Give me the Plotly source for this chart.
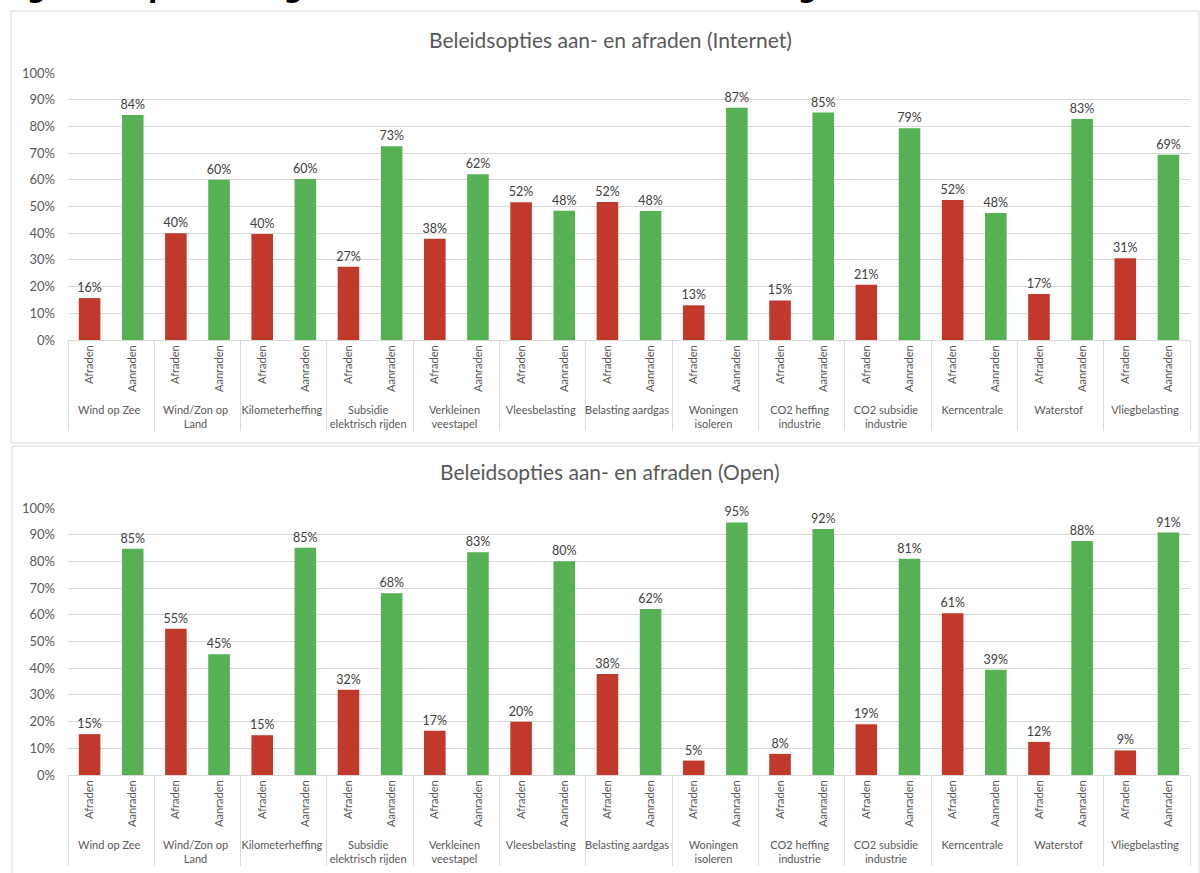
import plotly.graph_objects as go

# ---- data ----
maatregelen = ["Wind op Zee", "Wind/Zon op<br>Land", "Kilometerheffing", "Subsidie<br>elektrisch rijden",
               "Verkleinen<br>veestapel", "Vleesbelasting", "Belasting aardgas", "Woningen<br>isoleren",
               "CO2 heffing<br>industrie", "CO2 subsidie<br>industrie", "Kerncentrale", "Waterstof", "Vliegbelasting"]
reeksen = ["Afraden", "Aanraden"]

internet_afraden = [15.7, 40.0, 39.7, 27.4, 37.9, 51.6, 51.7, 13.0, 14.8, 20.7, 52.4, 17.2, 30.6]
internet_aanraden = [84.3, 60.0, 60.3, 72.6, 62.1, 48.4, 48.3, 87.0, 85.2, 79.3, 47.6, 82.8, 69.4]
open_afraden = [15.3, 54.8, 14.9, 31.9, 16.6, 19.9, 37.8, 5.4, 7.9, 19.0, 60.6, 12.4, 9.2]
open_aanraden = [84.7, 45.2, 85.1, 68.1, 83.4, 80.1, 62.2, 94.6, 92.1, 81.0, 39.4, 87.6, 90.8]

titel_figuur = "Figuur B: percentages deelnemers dat de 13 maatregelen aanbeveelt of afraadt"
titel_internet = "Beleidsopties aan- en afraden (Internet)"
titel_open = "Beleidsopties aan- en afraden (Open)"

RED = "#C0392B"
GREEN = "#55B153"
TXT = "#595959"
GRID = "#D9D9D9"
FONT = "Lato"

W, H = 1200, 873


def interleave(a, b):
    out = []
    for p, q in zip(a, b):
        out += [p, q]
    return out


outer = interleave(maatregelen, maatregelen)
inner = interleave([reeksen[0]] * len(maatregelen), [reeksen[1]] * len(maatregelen))
colors = interleave([RED] * len(maatregelen), [GREEN] * len(maatregelen))

fig = go.Figure()
for ax, (af, aan) in zip(["", "2"], [(internet_afraden, internet_aanraden), (open_afraden, open_aanraden)]):
    vals = interleave(af, aan)
    fig.add_trace(go.Bar(
        x=[outer, inner], y=vals,
        marker=dict(color=colors, line=dict(width=0)),
        width=0.5,
        text=[f"{round(v)}%" for v in vals],
        texttemplate="%{text}",
        textposition="outside",
        constraintext="none",
        textfont=dict(family=FONT, size=12.5, color="#404040"),
        cliponaxis=False,
        xaxis="x" + ax, yaxis="y" + ax,
        showlegend=False,
        hoverinfo="skip",
    ))


def py(px):
    return 1 - px / H


xdom = [68 / W, 1190 / W]
xcommon = dict(type="multicategory", domain=xdom, showline=True, linecolor=GRID, linewidth=1,
               showdividers=True, dividercolor=GRID, dividerwidth=1, tickangle=-90,
               tickfont=dict(family=FONT, size=11, color=TXT), ticks="", showgrid=False,
               automargin=False)
ycommon = dict(range=[0, 100], dtick=10, ticksuffix="%", gridcolor=GRID, gridwidth=1,
               showline=False, zeroline=False, tickfont=dict(family=FONT, size=13, color=TXT),
               ticklabelstandoff=12, automargin=False)

fig.update_layout(
    width=W, height=H, margin=dict(l=0, r=0, t=0, b=0, pad=0, autoexpand=False),
    paper_bgcolor="white", plot_bgcolor="white",
    barmode="overlay",
    xaxis=dict(anchor="y", **xcommon),
    yaxis=dict(domain=[py(340), py(73)], anchor="x", **ycommon),
    xaxis2=dict(anchor="y2", **xcommon),
    yaxis2=dict(domain=[py(775), py(508)], anchor="x2", **ycommon),
    font=dict(family=FONT, color=TXT),
)

# chart frames
fig.add_shape(type="rect", xref="paper", yref="paper", x0=11 / W, x1=1199 / W, y0=py(443), y1=py(11),
              line=dict(color=GRID, width=1), fillcolor="rgba(0,0,0,0)", layer="below")
fig.add_shape(type="rect", xref="paper", yref="paper", x0=12 / W, x1=1199 / W, y0=py(880), y1=py(446),
              line=dict(color=GRID, width=1), fillcolor="rgba(0,0,0,0)", layer="below")

fig.add_annotation(text=titel_figuur, xref="paper", yref="paper", x=-3 / W, y=py(5),
                   xanchor="left", yanchor="bottom", showarrow=False,
                   font=dict(family="DejaVu Sans", size=27, color="black", weight="bold"))
fig.add_annotation(text=titel_internet, xref="paper", yref="paper", x=610 / W, y=py(40),
                   xanchor="center", yanchor="middle", showarrow=False,
                   font=dict(family=FONT, size=21, color=TXT))
fig.add_annotation(text=titel_open, xref="paper", yref="paper", x=610 / W, y=py(472),
                   xanchor="center", yanchor="middle", showarrow=False,
                   font=dict(family=FONT, size=21, color=TXT))

fig.write_html("out.html", config={"displayModeBar": False},
               post_script="document.body.style.margin='0';document.body.style.overflow='hidden';")
